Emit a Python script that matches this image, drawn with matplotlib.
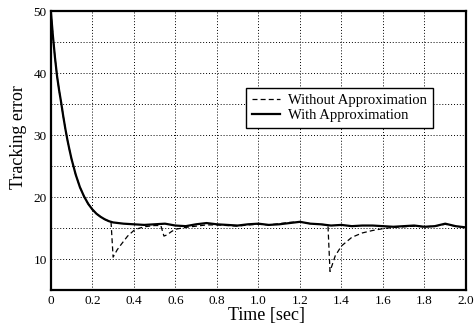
import matplotlib
matplotlib.use("Agg")
import matplotlib.pyplot as plt
from matplotlib.ticker import MultipleLocator

plt.rcParams['font.family'] = ['Liberation Serif', 'DejaVu Serif']

# With Approximation (solid)
t_with = [0.00, 0.01, 0.02, 0.03, 0.04, 0.05, 0.06, 0.07, 0.08, 0.09, 0.10,
          0.12, 0.14, 0.16, 0.18, 0.20, 0.22, 0.24, 0.26, 0.28, 0.30, 0.35,
          0.40, 0.45, 0.50, 0.55, 0.60, 0.65, 0.70, 0.75, 0.80, 0.85, 0.90,
          0.95, 1.00, 1.05, 1.10, 1.15, 1.20, 1.25, 1.30, 1.35, 1.40, 1.45,
          1.50, 1.55, 1.60, 1.65, 1.70, 1.75, 1.80, 1.85, 1.90, 1.95, 2.00]
e_with = [50.0, 46.0, 42.5, 39.5, 37.2, 35.2, 33.0, 31.0, 29.2, 27.6, 26.1,
          23.6, 21.6, 20.1, 18.9, 18.0, 17.3, 16.8, 16.4, 16.1, 15.9, 15.7,
          15.6, 15.5, 15.6, 15.7, 15.4, 15.3, 15.6, 15.8, 15.6, 15.5, 15.4,
          15.6, 15.7, 15.5, 15.6, 15.8, 16.0, 15.7, 15.6, 15.4, 15.5, 15.3,
          15.4, 15.4, 15.3, 15.2, 15.3, 15.4, 15.2, 15.3, 15.7, 15.3, 15.1]

# Without Approximation (dashed)
t_without = [0.00, 0.01, 0.02, 0.03, 0.04, 0.05, 0.06, 0.07, 0.08, 0.09, 0.10,
             0.12, 0.14, 0.16, 0.18, 0.20, 0.22, 0.24, 0.26, 0.28, 0.29, 0.30,
             0.32, 0.34, 0.37, 0.40, 0.42, 0.45, 0.50, 0.53, 0.545, 0.56, 0.58,
             0.60, 0.65, 0.70, 0.75, 0.80, 0.85, 0.90, 0.95, 1.00, 1.05, 1.10,
             1.15, 1.20, 1.25, 1.30, 1.335, 1.345, 1.37, 1.40, 1.45, 1.50, 1.55,
             1.60, 1.65, 1.70, 1.75, 1.80, 1.85, 1.90, 1.95, 2.00]
e_without = [50.0, 46.0, 42.5, 39.5, 37.2, 35.2, 33.0, 31.0, 29.2, 27.6, 26.1,
             23.6, 21.6, 20.1, 18.9, 18.0, 17.3, 16.8, 16.4, 16.1, 16.0, 10.3,
             11.5, 12.4, 13.7, 14.6, 14.9, 15.2, 15.4, 15.4, 13.7, 13.9, 14.4,
             14.8, 15.1, 15.3, 15.5, 15.5, 15.4, 15.3, 15.5, 15.6, 15.5, 15.7,
             15.9, 16.0, 15.7, 15.6, 15.5, 8.0, 10.5, 12.1, 13.5, 14.2, 14.6,
             14.9, 15.1, 15.2, 15.3, 15.2, 15.3, 15.6, 15.3, 15.1]

x_ticks = [0, 0.2, 0.4, 0.6, 0.8, 1.0, 1.2, 1.4, 1.6, 1.8, 2.0]
x_labels = ["0", "0.2", "0.4", "0.6", "0.8", "1.0", "1.2", "1.4", "1.6", "1.8", "2.0"]
y_ticks = [10, 20, 30, 40, 50]

fig = plt.figure(figsize=(4.75, 3.29), dpi=100)
ax = fig.add_axes([0.107, 0.1185, 0.874, 0.848])

ax.plot(t_without, e_without, color='black', linestyle=(0, (4, 2.5)), lw=0.9,
        label='Without Approximation')
ax.plot(t_with, e_with, color='black', linestyle='-', lw=1.6,
        label='With Approximation')

ax.set_xlim(0, 2.0)
ax.set_ylim(5, 50)
ax.set_xticks(x_ticks)
ax.set_xticklabels(x_labels)
ax.set_yticks(y_ticks)
ax.yaxis.set_minor_locator(MultipleLocator(5))
ax.grid(True, which='both', axis='y', color='black', linestyle=(0, (1, 2)), lw=0.7)
ax.grid(True, which='major', axis='x', color='black', linestyle=(0, (1, 2)), lw=0.7)
ax.tick_params(which='both', length=0, labelsize=9.5)
ax.tick_params(axis='y', pad=3)
ax.tick_params(axis='x', pad=3.5)
for s in ax.spines.values():
    s.set_linewidth(1.6)

ax.set_xlabel('Time [sec]', fontsize=13, va='top')
ax.xaxis.set_label_coords(0.52, -0.062)
ax.set_ylabel('Tracking error', fontsize=13)
ax.yaxis.set_label_coords(-0.058, 0.55)

leg = ax.legend(loc='upper right', bbox_to_anchor=(0.920, 0.724), fontsize=10.5,
                frameon=True, fancybox=False, framealpha=1, edgecolor='black',
                borderpad=0.38, handlelength=1.9, handletextpad=0.6,
                labelspacing=0.15, borderaxespad=0)
leg.get_frame().set_linewidth(1.0)

fig.savefig('out.png', dpi=100)
